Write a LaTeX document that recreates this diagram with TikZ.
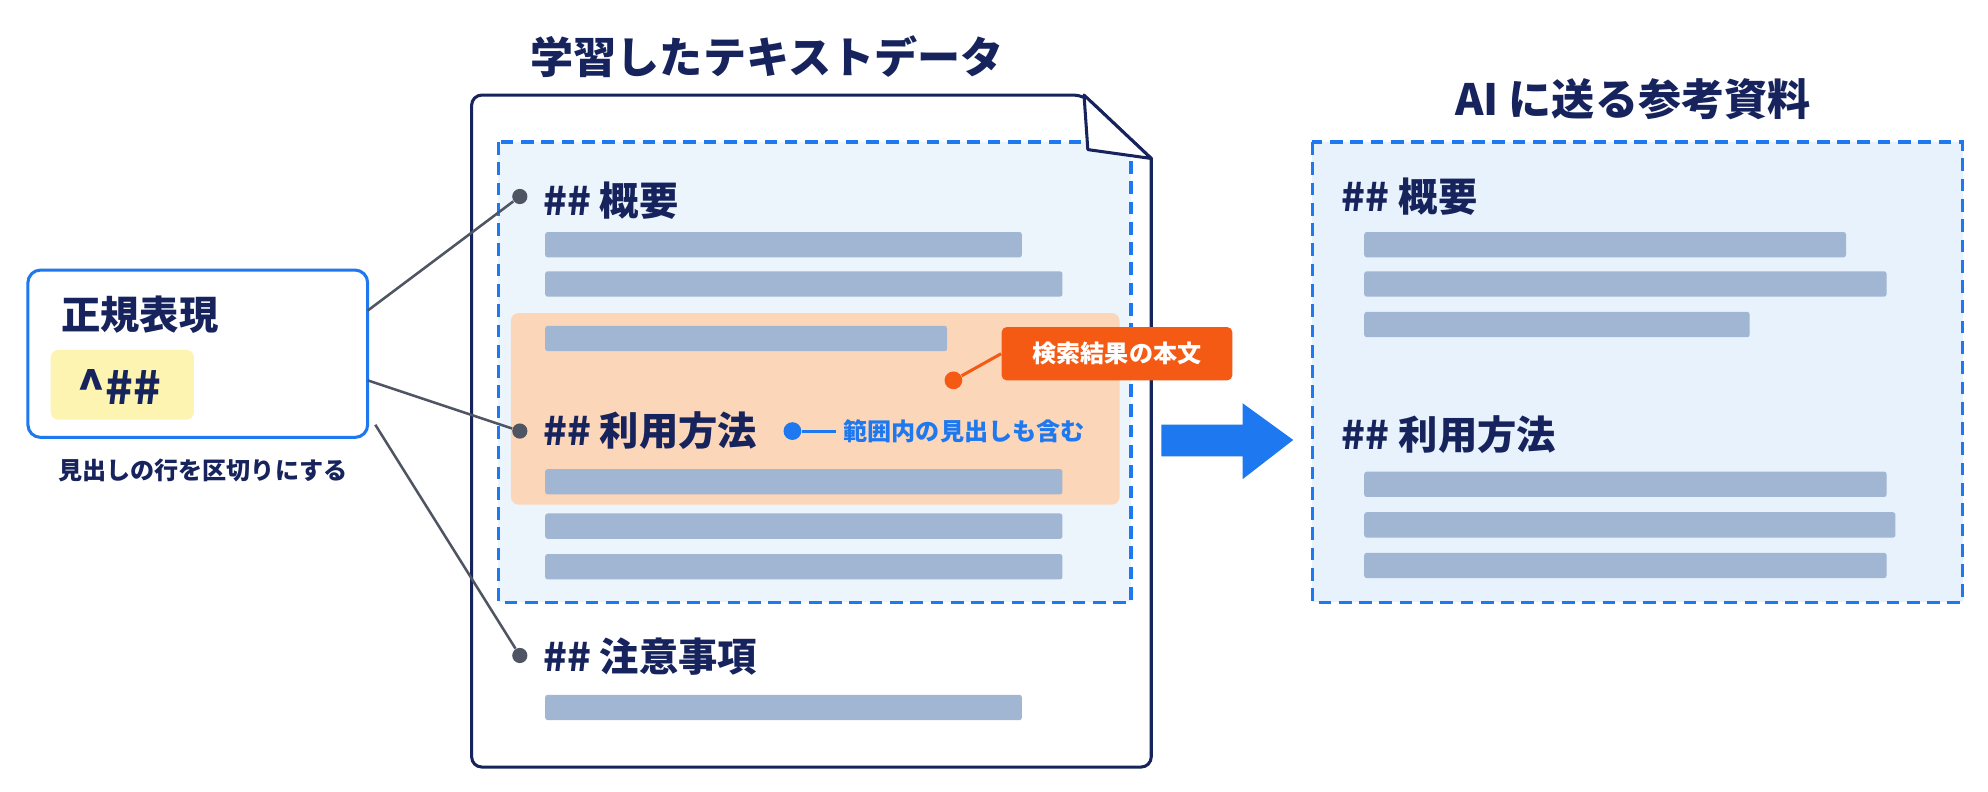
\documentclass[tikz,border=0pt]{standalone}
\usepackage{fontspec}
\setmainfont{Noto Sans CJK JP}
\usetikzlibrary{arrows.meta}
\definecolor{navyColor}{RGB}{22,35,92}
\definecolor{blueColor}{RGB}{30,120,240}
\definecolor{paleBlue}{RGB}{232,242,252}
\definecolor{barColor}{RGB}{160,182,210}
\definecolor{paleOrange}{RGB}{252,214,184}
\definecolor{redOrange}{RGB}{245,90,20}
\definecolor{paleYellow}{RGB}{252,244,176}
\definecolor{dotColor}{RGB}{80,85,100}
\tikzset{
  heading/.style={text=navyColor,anchor=west,inner sep=0pt,font=\bfseries\fontsize{15.5}{17}\selectfont},
  title/.style={text=navyColor,inner sep=0pt,font=\bfseries\fontsize{17}{19}\selectfont},
  bar/.style={fill=barColor,rounded corners=1pt},
  pin/.style={circle,fill=dotColor,minimum size=6pt,inner sep=0pt},
  link/.style={draw=dotColor,line width=1pt},
  zone/.style={blueColor,dash pattern=on 5pt off 3pt,line width=1.3pt}
}
\begin{document}
\begin{tikzpicture}[x=0.5pt,y=-0.5pt]
\path[use as bounding box,fill=white] (0,0) rectangle (1568,624);

% source document
\node[title] (srcTitle) at (605,45) {学習したテキストデータ};
\draw[navyColor,line width=1.2pt,fill=white,rounded corners=4pt] (372,75) -- (855,75)
  [sharp corners] -- (908,125) [rounded corners=4pt] -- (908,605) -- (372,605) -- cycle;
\path[fill=paleBlue,fill opacity=0.8] (393,112) rectangle (892,475);
\path[fill=paleOrange,rounded corners=3pt] (403,247) rectangle (883,398);
\draw[zone] (393,112) rectangle (892,475);
\draw[navyColor,line width=1.2pt,fill=white,line join=round] (855,75) -- (858,118) -- (908,125) -- cycle;

\node[heading] (srcA) at (428,158) {\#\#~概要};
\path[bar] (430,183) rectangle (806,203);
\path[bar] (430,214) rectangle (838,234);
\path[bar] (430,257) rectangle (747,277);
\node[heading] (srcB) at (428,340) {\#\#~利用方法};
\path[bar] (430,370) rectangle (838,390);
\path[bar] (430,405) rectangle (838,425);
\path[bar] (430,437) rectangle (838,457);
\node[heading] (srcC) at (428,518) {\#\#~注意事項};
\path[bar] (430,548) rectangle (806,568);

% inline notes
\node[circle,fill=blueColor,minimum size=7pt,inner sep=0pt] (noteDot) at (625,340) {};
\node[text=blueColor,anchor=west,inner sep=0pt,font=\bfseries\fontsize{9.5}{10}\selectfont] (noteText) at (665,340) {範囲内の見出しも含む};
\draw[blueColor,line width=1.2pt] (noteDot) -- ([xshift=-3pt]noteText.west);
\node[fill=redOrange,text=white,rounded corners=2pt,minimum width=91pt,minimum height=21pt,font=\bfseries\fontsize{9.5}{10}\selectfont] (hitLabel) at (881,279) {検索結果の本文};
\node[circle,fill=redOrange,minimum size=7pt,inner sep=0pt] (hitDot) at (752,300) {};
\draw[redOrange,line width=1.2pt] (hitDot) -- (hitLabel.west);

% regex box
\draw[blueColor,line width=1.2pt,fill=white,rounded corners=5pt] (22,213) rectangle (290,345);
\node[heading] (regexTitle) at (48,248) {正規表現};
\path[fill=paleYellow,rounded corners=3pt] (40,276) rectangle (153,331);
\node[text=navyColor,inner sep=0pt,font=\bfseries\fontsize{18}{20}\selectfont] (regexPat) at (94,305) {\textasciicircum\#\#};
\node[text=navyColor,inner sep=0pt,font=\bfseries\fontsize{9.5}{10}\selectfont] (regexNote) at (160,371) {見出しの行を区切りにする};
\coordinate (outA) at (290,245);
\coordinate (outB) at (290,300);
\coordinate (outC) at (296,335);
\node[pin] (pinA) at (410,155) {};
\node[pin] (pinB) at (410,340) {};
\node[pin] (pinC) at (410,517) {};
\draw[link] (outA) -- (pinA);
\draw[link] (outB) -- (pinB);
\draw[link] (outC) -- (pinC);

% arrow
\fill[blueColor] (916,335) -- (980,335) -- (980,318) -- (1020,347) -- (980,378) -- (980,360) -- (916,360) -- cycle;

% result
\node[title] (dstTitle) at (1288,78) {AI に送る参考資料};
\draw[zone,fill=paleBlue] (1035,112) rectangle (1548,475);
\node[heading] (dstA) at (1058,155) {\#\#~概要};
\path[bar] (1076,183) rectangle (1456,203);
\path[bar] (1076,214) rectangle (1488,234);
\path[bar] (1076,246) rectangle (1380,266);
\node[heading] (dstB) at (1058,343) {\#\#~利用方法};
\path[bar] (1076,372) rectangle (1488,392);
\path[bar] (1076,404) rectangle (1495,424);
\path[bar] (1076,436) rectangle (1488,456);
\end{tikzpicture}
\end{document}
